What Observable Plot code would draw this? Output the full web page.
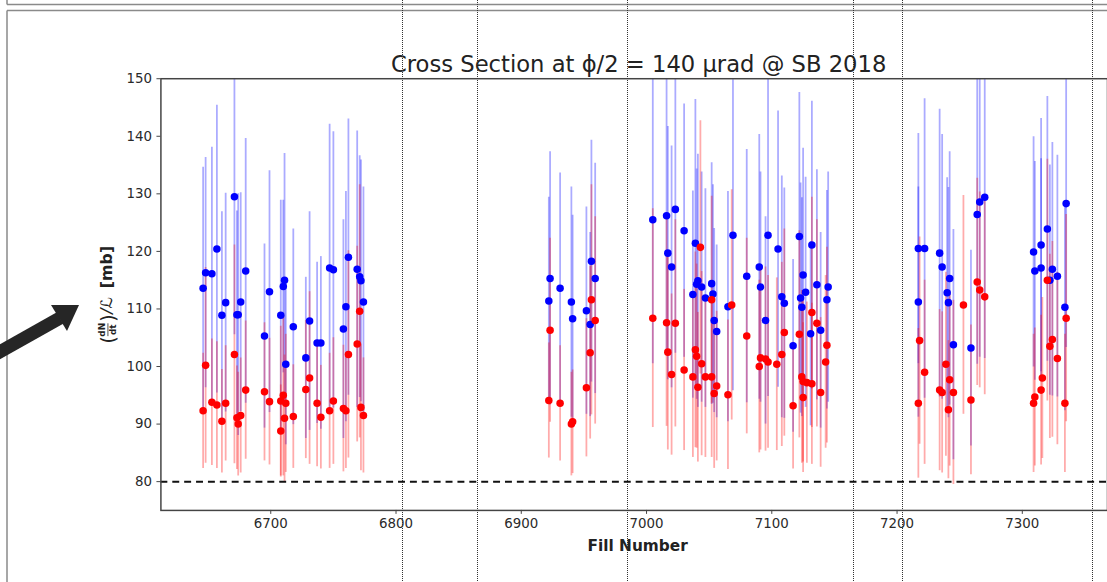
<!DOCTYPE html>
<html>
<head>
<meta charset="utf-8">
<script src="https://cdn.jsdelivr.net/npm/d3@7"></script>
<script src="https://cdn.jsdelivr.net/npm/@observablehq/plot@0.6"></script>
<style>
html, body { margin: 0; padding: 0; width: 1107px; height: 582px; overflow: hidden; background: #fff; }
#wrap { position: relative; width: 1107px; height: 582px; overflow: hidden; }
#chart { position: absolute; left: 0; top: 0; }
#overlay { position: absolute; left: 0; top: 0; pointer-events: none; }
</style>
</head>
<body>
<div id="wrap">
  <div id="chart"></div>
  <svg id="overlay" width="1107" height="582"></svg>
</div>
<script>
// ---------- data ----------
const titleText = "Cross Section at \u03D5/2 = 140 \u03BCrad @ SB 2018";
const xLabel = "Fill Number";
const xTicks = [6700, 6800, 6900, 7000, 7100, 7200, 7300];
const yTicks = [80, 90, 100, 110, 120, 130, 140, 150];
const referenceLevel = [80];

const blueFill = [
  6646, 6648, 6653, 6657, 6661, 6664, 6671, 6673, 6674, 6676, 6680, 6695, 6699, 6708, 6710, 6711, 6712, 6718, 6728, 6731, 6737, 6740, 6747, 6750, 6758, 6760, 6762, 6769, 6771, 6772, 6774,
  6922, 6923, 6931, 6940, 6941, 6952, 6955, 6956, 6959,
  7005, 7016, 7017, 7020, 7023, 7030, 7037, 7039, 7040, 7041, 7044, 7047, 7052, 7053, 7054, 7056, 7065, 7069, 7080, 7090, 7091, 7095, 7097, 7105, 7108, 7110, 7117, 7122, 7123, 7124, 7125, 7127, 7131, 7132, 7136, 7139, 7144, 7145,
  7217, 7217, 7222, 7234, 7236, 7240, 7241, 7242, 7245, 7259, 7264, 7266, 7270,
  7309, 7310, 7315, 7315, 7320, 7322, 7324, 7328, 7334, 7335
];
const blueValue = [
  113.6, 116.3, 116.1, 120.4, 108.9, 111.1, 129.5, 109.0, 109.0, 111.2, 116.6, 105.3, 113.0, 108.9, 113.9, 115.0, 100.4, 106.9, 101.5, 107.9, 104.1, 104.1, 117.1, 116.8, 106.5, 110.4, 119.0, 116.9, 115.6, 114.9, 111.2,
  111.4, 115.3, 113.6, 111.2, 108.3, 109.7, 107.3, 118.3, 115.3,
  125.5, 126.2, 119.7, 117.3, 127.3, 123.6, 112.5, 121.4, 114.3, 114.9, 113.8, 111.9, 114.4, 112.6, 108.0, 106.1, 110.4, 122.8, 115.7, 117.3, 113.8, 108.0, 122.8, 120.4, 112.1, 111.0, 103.6, 122.6, 111.9, 110.3, 115.9, 112.9, 105.7, 121.1, 114.2, 106.3, 111.6, 113.8,
  120.5, 111.2, 120.5, 119.7, 117.3, 112.8, 111.1, 115.3, 103.8, 103.2, 126.4, 128.6, 129.4,
  119.9, 116.6, 117.1, 121.1, 123.9, 115.0, 116.9, 115.7, 110.3, 128.3
];
const blueError = [
  21, 20, 22, 25, 18, 19, 24, 18, 21, 19, 23, 16, 21, 20, 15, 22, 14, 17, 14, 19, 14, 15, 25, 24, 19, 20, 24, 24, 21, 21, 20,
  18, 22, 20, 20, 18, 18, 16, 21, 20,
  25, 24, 22, 21, 25, 22, 18, 25, 20, 22, 20, 19, 21, 19, 16, 15, 20, 27, 22, 23, 20, 18, 28, 24, 21, 20, 15, 25, 20, 19, 22, 20, 16, 25, 20, 17, 19, 20,
  20, 20, 26, 25, 23, 20, 20, 22, 20, 17, 26, 27, 28,
  20, 19, 19, 22, 23, 20, 22, 21, 18, 25
];

const redFill = [
  6646, 6648, 6653, 6657, 6661, 6664, 6671, 6673, 6674, 6676, 6680, 6695, 6699, 6708, 6708, 6710, 6711, 6712, 6718, 6728, 6731, 6737, 6740, 6747, 6750, 6758, 6760, 6762, 6769, 6771, 6772, 6774,
  6922, 6923, 6931, 6940, 6941, 6952, 6955, 6956, 6959,
  7005, 7016, 7017, 7020, 7023, 7030, 7037, 7039, 7040, 7041, 7043, 7044, 7047, 7052, 7052, 7054, 7056, 7065, 7068, 7080, 7090, 7091, 7095, 7097, 7104, 7108, 7110, 7117, 7122, 7124, 7125, 7125, 7128, 7132, 7132, 7136, 7139, 7143, 7144,
  7217, 7218, 7222, 7234, 7236, 7239, 7241, 7242, 7245, 7253, 7259, 7264, 7266, 7270,
  7309, 7310, 7315, 7316, 7320, 7322, 7324, 7328, 7334, 7335
];
const redValue = [
  92.3, 100.2, 93.8, 93.3, 90.5, 93.6, 102.1, 91.1, 90.0, 91.5, 95.9, 95.6, 93.9, 88.8, 94.0, 95.0, 91.0, 93.6, 91.3, 96.0, 98.0, 93.6, 91.2, 92.3, 94.0, 92.7, 92.3, 102.1, 103.9, 109.6, 92.9, 91.5,
  94.1, 106.3, 93.6, 90.0, 90.4, 96.3, 102.4, 111.6, 108.0,
  108.4, 107.6, 102.5, 98.6, 107.5, 99.4, 98.2, 102.9, 101.8, 96.4, 120.7, 100.5, 98.2, 98.2, 111.6, 95.3, 96.6, 95.1, 110.7, 105.3, 100.0, 101.5, 101.3, 100.8, 100.4, 102.1, 105.9, 93.2, 105.6, 98.2, 97.4, 94.6, 97.2, 97.0, 109.4, 107.5, 95.5, 100.8, 103.7,
  93.6, 104.5, 99.0, 95.9, 95.5, 100.4, 92.5, 97.7, 95.5, 110.7, 94.2, 114.7, 113.3, 112.1,
  93.6, 94.7, 95.9, 98.0, 115.0, 103.5, 104.7, 101.4, 93.6, 108.4
];
const redError = [
  10, 17, 11, 11, 9, 10, 19, 9, 9, 10, 12, 12, 11, 8, 13, 14, 11, 12, 9, 12, 15, 11, 9, 10, 11, 11, 10, 18, 17, 22, 11, 10,
  10, 16, 10, 9, 9, 12, 15, 20, 18,
  19, 18, 17, 14, 18, 14, 14, 17, 16, 13, 22, 16, 14, 14, 18, 13, 13, 13, 20, 17, 15, 16, 16, 15, 15, 16, 18, 11, 18, 15, 14, 13, 14, 14, 20, 18, 13, 15, 17,
  13, 18, 16, 14, 14, 16, 12, 15, 16, 19, 13, 18, 17, 17,
  12, 12, 13, 14, 21, 16, 17, 15, 12, 18
];

// slide guide positions (decoration of the screenshot, not data)
const guideX = [402, 477, 627, 853, 902, 1092];

// ---------- tables ----------
const blue = blueFill.map((f, i) => ({fill: f, value: blueValue[i], lo: blueValue[i] - blueError[i], hi: blueValue[i] + blueError[i]}));
const red = redFill.map((f, i) => ({fill: f, value: redValue[i], lo: redValue[i] - redError[i], hi: redValue[i] + redError[i]}));

const chart = Plot.plot({
  width: 1118,
  height: 582,
  marginTop: 79,
  marginBottom: 67,
  marginLeft: 162,
  marginRight: 0,
  x: {domain: [6612.3, 7368]},
  y: {domain: [75, 150]},
  style: {fontFamily: "'DejaVu Sans', sans-serif", fontSize: "13.5px", color: "#2a2a2a", background: "transparent", overflow: "visible"},
  marks: [
    Plot.ruleX(blue, {x: "fill", y1: "lo", y2: "hi", stroke: "#0000ff", strokeOpacity: 0.33, strokeWidth: 1.8, clip: true}),
    Plot.ruleX(red, {x: "fill", y1: "lo", y2: "hi", stroke: "#ff0000", strokeOpacity: 0.33, strokeWidth: 1.8, clip: true}),
    Plot.ruleY(referenceLevel, {y: d => d, stroke: "#111", strokeWidth: 2, strokeDasharray: "7,5"}),
    Plot.dot(blue, {x: "fill", y: "value", r: 3.8, fill: "#0000ff", stroke: "none"}),
    Plot.dot(red, {x: "fill", y: "value", r: 3.8, fill: "#ff0000", stroke: "none"}),
    Plot.axisX({ticks: xTicks, tickSize: 4, tickPadding: 4, tickFormat: d => String(d), label: null, stroke: "#444"}),
    Plot.axisY({ticks: yTicks, tickSize: 4, tickPadding: 5, tickFormat: d => String(d), label: null, stroke: "#444"}),
    Plot.frame({stroke: "#444", strokeWidth: 1.5})
  ]
});
document.getElementById("chart").appendChild(chart);

const svg = d3.select(chart);
// title
svg.append("text")
  .attr("x", 645).attr("y", 73)
  .attr("text-anchor", "middle")
  .attr("font-size", 22.9)
  .attr("fill", "#222")
  .text(titleText);
// x label
svg.append("text")
  .attr("x", 644).attr("y", 557)
  .attr("text-anchor", "middle")
  .attr("font-size", 15.5)
  .attr("font-weight", "bold")
  .attr("fill", "#222")
  .text(xLabel);
// y label: (dN/dt)/L [mb]
const yl = svg.append("g")
  .attr("transform", "translate(113,296) rotate(-90)")
  .attr("fill", "#222")
  .attr("text-anchor", "start");
yl.append("text").attr("x", -51).attr("y", 3).attr("font-size", 19).text("(");
yl.append("text").attr("x", -37).attr("y", -6.5).attr("text-anchor", "middle").attr("font-size", 9).attr("font-weight", "bold").text("dN");
yl.append("line").attr("x1", -43.5).attr("x2", -30.5).attr("y1", -4).attr("y2", -4).attr("stroke", "#222").attr("stroke-width", 0.8);
yl.append("text").attr("x", -37).attr("y", 4.5).attr("text-anchor", "middle").attr("font-size", 9).attr("font-weight", "bold").text("dt");
yl.append("text").attr("x", -29).attr("y", 3).attr("font-size", 19).text(")");
yl.append("text").attr("x", -21).attr("y", 0).attr("font-size", 16).attr("font-style", "italic").text("/\u2112");
yl.append("text").attr("x", 5).attr("y", 0).attr("font-size", 16).attr("font-weight", "bold").text("[mb]");

// ---------- screenshot decorations (slide frame, guides, arrow) ----------
const ov = d3.select("#overlay");
ov.append("line").attr("x1", 7).attr("x2", 1107).attr("y1", 4.5).attr("y2", 4.5).attr("stroke", "#8a8a8a").attr("stroke-width", 1.5);
ov.append("line").attr("x1", 7).attr("x2", 7).attr("y1", 0).attr("y2", 4.5).attr("stroke", "#8a8a8a").attr("stroke-width", 1.5);
ov.append("line").attr("x1", 7).attr("x2", 1107).attr("y1", 10.5).attr("y2", 10.5).attr("stroke", "#8a8a8a").attr("stroke-width", 1.5);
ov.append("line").attr("x1", 7).attr("x2", 7).attr("y1", 10.5).attr("y2", 582).attr("stroke", "#8a8a8a").attr("stroke-width", 1.5);
ov.selectAll("line.guide").data(guideX).join("line")
  .attr("class", "guide")
  .attr("x1", d => d + 0.5).attr("x2", d => d + 0.5)
  .attr("y1", 0).attr("y2", 582)
  .attr("stroke", "#333").attr("stroke-width", 1).attr("stroke-dasharray", "1,1");
ov.append("line").attr("x1", -4).attr("y1", 354).attr("x2", 60).attr("y2", 318)
  .attr("stroke", "#262626").attr("stroke-width", 13);
ov.append("path").attr("d", "M79,305 L67,331 L51,305 Z").attr("fill", "#262626");
</script>
</body>
</html>
